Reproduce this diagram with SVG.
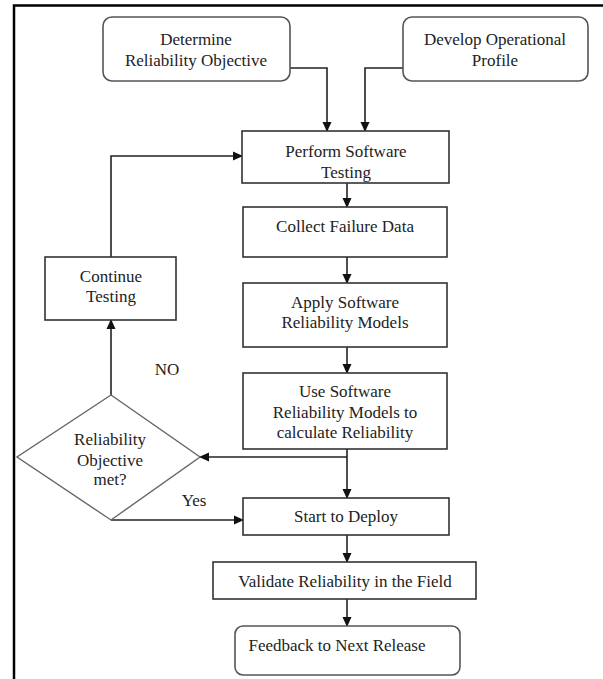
<svg xmlns="http://www.w3.org/2000/svg" width="603" height="679" viewBox="0 0 603 679">
<defs>
<marker id="ah" markerWidth="10" markerHeight="10" refX="9" refY="5" orient="auto" markerUnits="userSpaceOnUse">
<path d="M0,0.5 L10,5 L0,9.5 Z" fill="#111"/>
</marker>
<style>
.box{fill:#fff;stroke:#333;stroke-width:1.6}
.rbox{fill:#fff;stroke:#555;stroke-width:1.6}
.dia{fill:#fff;stroke:#666;stroke-width:1.4}
.t{font-family:"Liberation Serif","Times New Roman",serif;font-size:17px;fill:#222;text-anchor:middle}
.c{fill:none;stroke:#222;stroke-width:1.6}
</style>
</defs>
<rect width="603" height="679" fill="#fff"/>
<path d="M14,679 L14,5.5 L603,5.5" fill="none" stroke="#000" stroke-width="2.5"/>

<g id="connectors">
<path class="c" d="M290,68 H327 V131" marker-end="url(#ah)"/>
<path class="c" d="M403,68 H365 V131" marker-end="url(#ah)"/>
<path class="c" d="M347,183 V207" marker-end="url(#ah)"/>
<path class="c" d="M347,257 V283" marker-end="url(#ah)"/>
<path class="c" d="M347,347 V373" marker-end="url(#ah)"/>
<path class="c" d="M347,449 V498" marker-end="url(#ah)"/>
<path class="c" d="M347,457 H200" marker-end="url(#ah)"/>
<path class="c" d="M111,395 V320" marker-end="url(#ah)"/>
<path class="c" d="M111,257 V156 H242" marker-end="url(#ah)"/>
<path class="c" d="M111,520 H243" marker-end="url(#ah)"/>
<path class="c" d="M347,535 V562" marker-end="url(#ah)"/>
<path class="c" d="M347,599 V626" marker-end="url(#ah)"/>
</g>

<g id="determine">
<rect class="rbox" x="103" y="17" width="187" height="64" rx="9"/>
<text class="t" x="196" y="45">Determine</text>
<text class="t" x="196" y="66">Reliability Objective</text>
</g>
<g id="develop">
<rect class="rbox" x="403" y="17" width="185" height="64" rx="9"/>
<text class="t" x="495" y="45">Develop Operational</text>
<text class="t" x="495" y="66">Profile</text>
</g>
<g id="perform">
<rect class="box" x="242" y="131" width="207" height="52"/>
<text class="t" x="346" y="157">Perform Software</text>
<text class="t" x="346" y="178">Testing</text>
</g>
<g id="collect">
<rect class="box" x="243" y="207" width="204" height="50"/>
<text class="t" x="345" y="232">Collect Failure Data</text>
</g>
<g id="apply">
<rect class="box" x="243" y="283" width="204" height="64"/>
<text class="t" x="345" y="308">Apply Software</text>
<text class="t" x="345" y="328">Reliability Models</text>
</g>
<g id="use">
<rect class="box" x="243" y="373" width="204" height="76"/>
<text class="t" x="345" y="397">Use Software</text>
<text class="t" x="345" y="418">Reliability Models to</text>
<text class="t" x="345" y="438">calculate Reliability</text>
</g>
<g id="continue">
<rect class="box" x="45" y="257" width="131" height="63"/>
<text class="t" x="111" y="282">Continue</text>
<text class="t" x="111" y="302">Testing</text>
</g>
<g id="decision">
<polygon class="dia" points="111,395 200,457 111,520 17,457"/>
<text class="t" x="110" y="445">Reliability</text>
<text class="t" x="110" y="466">Objective</text>
<text class="t" x="110" y="485">met?</text>
</g>
<text class="t" x="167" y="375">NO</text>
<text class="t" x="194" y="506">Yes</text>
<g id="deploy">
<rect class="box" x="243" y="498" width="206" height="37"/>
<text class="t" x="346" y="522">Start to Deploy</text>
</g>
<g id="validate">
<rect class="box" x="213" y="562" width="263" height="37"/>
<text class="t" x="345" y="587">Validate Reliability  in the Field</text>
</g>
<g id="feedback">
<rect class="rbox" x="235" y="626" width="225" height="49" rx="8"/>
<text class="t" x="337" y="651">Feedback to Next Release</text>
</g>
</svg>
